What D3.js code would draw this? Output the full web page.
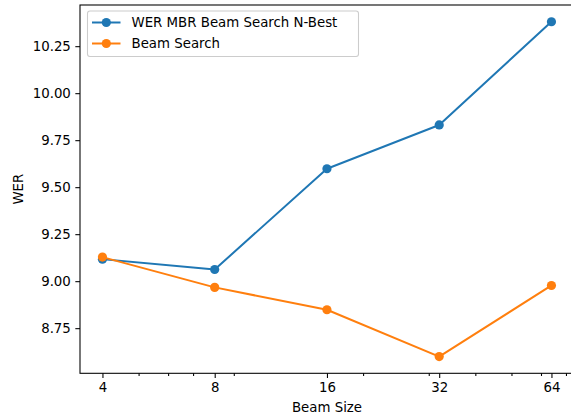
<!DOCTYPE html>
<html>
<head>
<meta charset="utf-8">
<script src="https://cdn.jsdelivr.net/npm/d3@7"></script>
<style>
  html, body { margin: 0; padding: 0; background: #fff; }
  svg { display: block; font-family: "DejaVu Sans", sans-serif; }
</style>
</head>
<body>
<svg id="chart" width="571" height="418"></svg>
<script>
// ---- data ----
const beamSizes = [4, 8, 16, 32, 64];
const werMbrNBest = [9.117, 9.062, 9.598, 9.831, 10.38];
const beamSearch = [9.128, 8.967, 8.848, 8.599, 8.977];
const seriesNames = ["WER MBR Beam Search N-Best", "Beam Search"];
const seriesColors = ["#1f77b4", "#ff7f0e"];
const yTicks = [8.75, 9.00, 9.25, 9.50, 9.75, 10.00, 10.25];
const xMinorTicks = [5, 6, 7, 9, 20, 30, 40, 50, 60, 70];
const xLabel = "Beam Size";
const yLabel = "WER";

// ---- layout ----
const plotLeft = 80, plotTop = 5, plotBottom = 373.3;
const octave = 112.25;
const lx0 = Math.log2(4) - 0.2, lx1 = Math.log2(64) + 0.2;
const plotRight = plotLeft + (lx1 - lx0) * octave;
const markerR = 4.6;

const svg = d3.select("#chart");

const x = d3.scaleLog().base(2)
  .domain([Math.pow(2, lx0), Math.pow(2, lx1)])
  .range([plotLeft, plotRight]);

const allY = werMbrNBest.concat(beamSearch);
const yMin = d3.min(allY), yMax = d3.max(allY);
const pad = (yMax - yMin) * 0.05;
const y = d3.scaleLinear().domain([yMin - pad, yMax + pad]).range([plotBottom, plotTop]);

// axes
const xAxis = d3.axisBottom(x).tickValues(beamSizes).tickFormat(d3.format("d"))
  .tickSize(4.67).tickPadding(4.5);
const xMinor = d3.axisBottom(x).tickValues(xMinorTicks).tickFormat("").tickSize(2.67);
const yAxis = d3.axisLeft(y).tickValues(yTicks).tickFormat(d3.format(".2f"))
  .tickSize(4.67).tickPadding(4.5);

function styleAxis(g) {
  g.select(".domain").remove();
  g.selectAll("line").attr("stroke", "#000").attr("stroke-width", 1.07);
  g.selectAll("text").attr("fill", "#000").style("font-size", "13.33px")
    .style("font-family", "'DejaVu Sans', sans-serif");
}

svg.append("g").attr("transform", `translate(0,${plotBottom})`).call(xMinor).call(styleAxis);
svg.append("g").attr("transform", `translate(0,${plotBottom})`).call(xAxis).call(styleAxis);
svg.append("g").attr("transform", `translate(${plotLeft},0)`).call(yAxis).call(styleAxis);

// spines
svg.append("rect")
  .attr("x", plotLeft).attr("y", plotTop)
  .attr("width", plotRight - plotLeft).attr("height", plotBottom - plotTop)
  .attr("fill", "none").attr("stroke", "#000").attr("stroke-width", 1.07);

// series
const seriesData = [werMbrNBest, beamSearch];
const line = d3.line().x((d, i) => x(beamSizes[i])).y(d => y(d));
seriesData.forEach((vals, si) => {
  const g = svg.append("g");
  g.append("path").datum(vals)
    .attr("d", line)
    .attr("fill", "none")
    .attr("stroke", seriesColors[si])
    .attr("stroke-width", 2)
    .attr("stroke-linejoin", "round")
    .attr("stroke-linecap", "square");
  g.selectAll("circle").data(vals).join("circle")
    .attr("cx", (d, i) => x(beamSizes[i]))
    .attr("cy", d => y(d))
    .attr("r", markerR)
    .attr("fill", seriesColors[si]);
});

// axis labels
svg.append("text")
  .attr("x", 327).attr("y", 411.5)
  .attr("text-anchor", "middle")
  .style("font-size", "13.33px")
  .text(xLabel);
svg.append("text")
  .attr("transform", `translate(22.5,${(plotTop + plotBottom) / 2}) rotate(-90)`)
  .attr("text-anchor", "middle")
  .style("font-size", "13.33px")
  .text(yLabel);

// legend
const leg = svg.append("g");
leg.append("rect")
  .attr("x", 87.5).attr("y", 11).attr("width", 271).attr("height", 45.5)
  .attr("rx", 2.5).attr("ry", 2.5)
  .attr("fill", "#fff").attr("fill-opacity", 0.8)
  .attr("stroke", "#cccccc").attr("stroke-width", 1.07);
seriesNames.forEach((name, i) => {
  const cy = 22.5 + i * 21;
  leg.append("line").attr("x1", 92).attr("x2", 120.5).attr("y1", cy).attr("y2", cy)
    .attr("stroke", seriesColors[i]).attr("stroke-width", 2);
  leg.append("circle").attr("cx", 106.3).attr("cy", cy).attr("r", markerR).attr("fill", seriesColors[i]);
  leg.append("text").attr("x", 131.5).attr("y", cy + 4.8)
    .style("font-size", "13.33px").attr("fill", "#000").text(name);
});
</script>
</body>
</html>
